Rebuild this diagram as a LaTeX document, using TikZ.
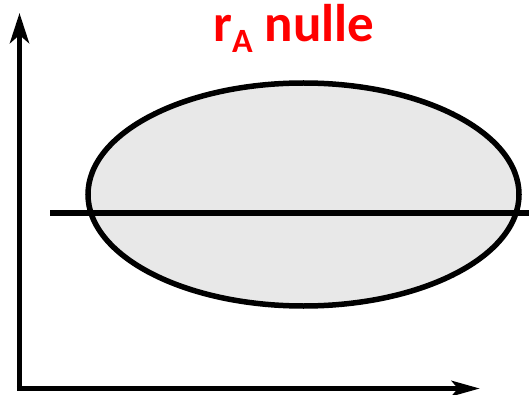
\documentclass[tikz,border=0pt]{standalone}
\usepackage{fontspec}
\setmainfont{Carlito}
\usetikzlibrary{arrows.meta,shapes.geometric}
\definecolor{titlered}{RGB}{255,0,0}
\tikzset{
  axis/.style={line width=5.5pt},
  blob/.style={line width=5.5pt, fill=black!9},
  cut/.style={line width=6pt},
  title/.style={text=titlered, font=\bfseries\fontsize{53}{53}\selectfont, inner sep=0pt, anchor=base west}
}
\begin{document}
\begin{tikzpicture}[x=1pt,y=-1pt]
\useasboundingbox (0,0) rectangle (529,395);
\coordinate (O) at (19.5,388.5);
\coordinate (ytop) at (19.5,13);
\coordinate (xend) at (480,388.5);
\node[blob, draw, ellipse, minimum width=431pt, minimum height=223pt, inner sep=0pt] (E) at (303.5,194.5) {};
\coordinate (L) at (50,213);
\coordinate (R) at (529,213);
\draw[cut] (L) -- (R);
\draw[axis, -{Stealth[length=30pt,width=19pt,inset=8pt]}] (O) -- (ytop);
\draw[axis, -{Stealth[length=28pt,width=15pt,inset=6pt]}] ([xshift=-2.75pt]O) -- (xend);
\node[title] (T) at (213,42) {r\raisebox{-11pt}{\fontsize{34}{34}\selectfont A} nulle};
\end{tikzpicture}
\end{document}
